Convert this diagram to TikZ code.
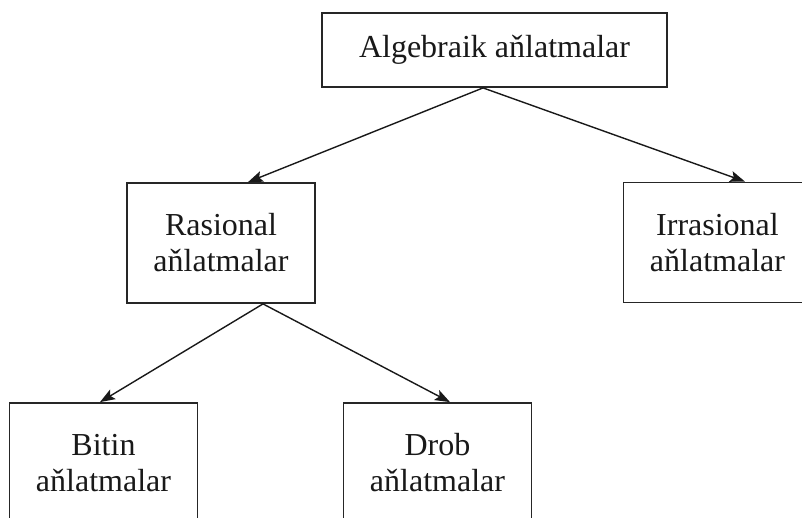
\documentclass[tikz,border=0pt]{standalone}
\usepackage{fontspec}
\setmainfont{Liberation Serif}
\usepackage{tikz}
\usetikzlibrary{arrows.meta}

\begin{document}
\begin{tikzpicture}[x=0.5pt, y=-0.5pt,
  tbox/.style={draw=black!85, line width=0.9pt, fill=white, align=center,
    inner sep=0pt, font=\fontsize{16}{18}\selectfont, text=black!90},
  kbox/.style={tbox, minimum width=94pt, minimum height=60pt},
  arr/.style={-{Stealth[length=7.5pt, width=5.5pt, inset=1.5pt]}, line width=0.7pt, draw=black!90}
]
  \clip (0,0) rectangle (802,518);
  \node[tbox, minimum width=172.5pt, minimum height=37pt] (alg) at (494.5,50) {Algebraik aňlatmalar};
  \node[kbox] (ras) at (221,243) {Rasional\\aňlatmalar};
  \node[kbox] (irr) at (717.5,242.5) {Irrasional\\aňlatmalar};
  \node[kbox] (bit) at (103.5,463) {Bitin\\aňlatmalar};
  \node[kbox] (drob) at (437.5,463) {Drob\\aňlatmalar};
  \draw[arr] ([xshift=-5.75pt]alg.south) -- ([xshift=13.5pt]ras.north);
  \draw[arr] ([xshift=-5.75pt]alg.south) -- ([xshift=13.75pt]irr.north);
  \draw[arr] ([xshift=21pt]ras.south) -- ([xshift=-1.75pt]bit.north);
  \draw[arr] ([xshift=21pt]ras.south) -- ([xshift=6.25pt]drob.north);
\end{tikzpicture}
\end{document}
